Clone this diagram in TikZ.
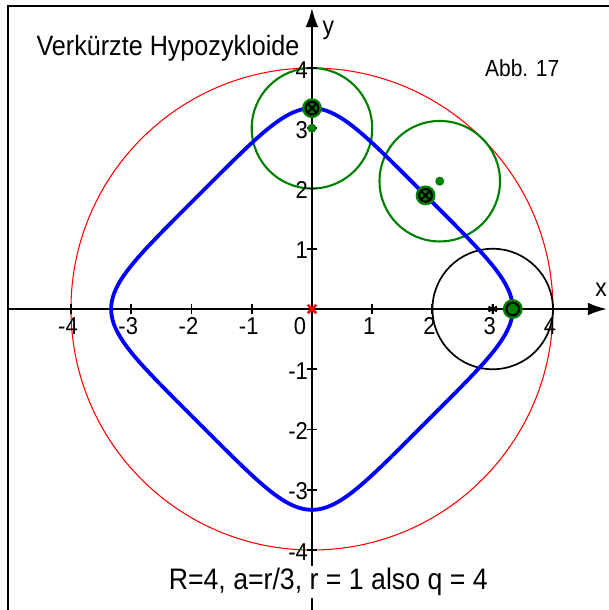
\documentclass[tikz,border=0pt]{standalone}
\usepackage{fontspec}
\setmainfont{Liberation Sans}[FakeStretch=0.9]
\usetikzlibrary{arrows.meta}
\definecolor{pgreen}{RGB}{0,128,0}
\tikzset{
  axis/.style={line width=1pt,-{Latex[length=9pt,width=6pt]}},
  tick/.style={line width=0.9pt},
  ticklab/.style={font=\fontsize{11.5}{13}\selectfont,inner sep=0pt},
  greencirc/.style={pgreen,line width=1pt},
  blackcirc/.style={black,line width=0.8pt},
  curve/.style={blue,line width=1.8pt},
}
\begin{document}
\begin{tikzpicture}[x=1cm,y=1cm]
\useasboundingbox (-5.178,-4.996) rectangle (4.929,5.129);
% frame
\draw[line width=1pt] (-5.046,-4.996) -- (-5.046,5.029) -- (4.929,5.029);
% circles
\draw[red,line width=0.5pt] (0,0) circle (4);
\draw[greencirc] (0,3) circle (1);
\draw[greencirc] (2.1213,2.1213) circle (1);
\draw[blackcirc] (3,0) circle (1);
% axes
\coordinate (xs) at (-5.046,0);
\coordinate (xe) at (4.896,0);
\coordinate (ys) at (0,-4.996);
\coordinate (ye) at (0,4.996);
\draw[axis] (xs) -- (xe);
\draw[axis] (ys) -- (ye);
\node[font=\fontsize{12}{14}\selectfont] (xl) at (4.80,0.32) {x};
\node[font=\fontsize{12}{14}\selectfont] (yl) at (0.27,4.63) {y};
\foreach \v in {-4,-3,-2,-1,1,2,3,4} {
  \draw[tick] (\v,-0.09) -- (\v,0.09);
  \draw[tick] (-0.09,\v) -- (0.09,\v);
  \node[ticklab] at (\v-0.05,-0.29) {\v};
  \node[ticklab,anchor=east] at (-0.06,\v-0.03) {\v};
}
\node[ticklab] (zero) at (-0.2,-0.29) {0};
% curve
\draw[curve] plot[domain=0:360,samples=241,smooth,variable=\t]
  ({3*cos(\t)+cos(3*\t)/3},{3*sin(\t)-sin(3*\t)/3}) -- cycle;
% origin cross
\draw[red,line width=1.3pt] (-0.07,-0.07) -- (0.07,0.07) (-0.07,0.07) -- (0.07,-0.07);
% star at (3,0)
\draw[black,line width=0.9pt] (3,-0.08) -- (3,0.08)
  (2.93,-0.04) -- (3.07,0.04) (2.93,0.04) -- (3.07,-0.04);
% centre dots
\fill[pgreen] (0,3) circle (0.075);
\fill[pgreen] (2.1213,2.1213) circle (0.075);
% points on curve
\foreach \px/\py in {0/3.3333, 1.8856/1.8856} {
  \fill[pgreen] (\px,\py) circle (0.165);
  \draw[black,line width=1pt] (\px,\py) circle (0.105);
  \draw[black,line width=1pt] (\px-0.074,\py-0.074) -- (\px+0.074,\py+0.074)
    (\px-0.074,\py+0.074) -- (\px+0.074,\py-0.074);
}
\fill[pgreen] (3.3333,0) circle (0.165);
\draw[black,line width=1pt] (3.3333,0) circle (0.105);
% texts
\node[font=\fontsize{13.2}{15}\selectfont] (title) at (-2.39,4.33) {Verkürzte Hypozykloide};
\node[font=\fontsize{11}{13}\selectfont] (abb) at (3.49,4.0) {Abb. 17};
\node[font=\fontsize{14}{16}\selectfont,fill=white,inner sep=1pt] (bottom) at (0.27,-4.53) {R=4, a=r/3, r = 1 also q = 4};
\end{tikzpicture}
\end{document}
